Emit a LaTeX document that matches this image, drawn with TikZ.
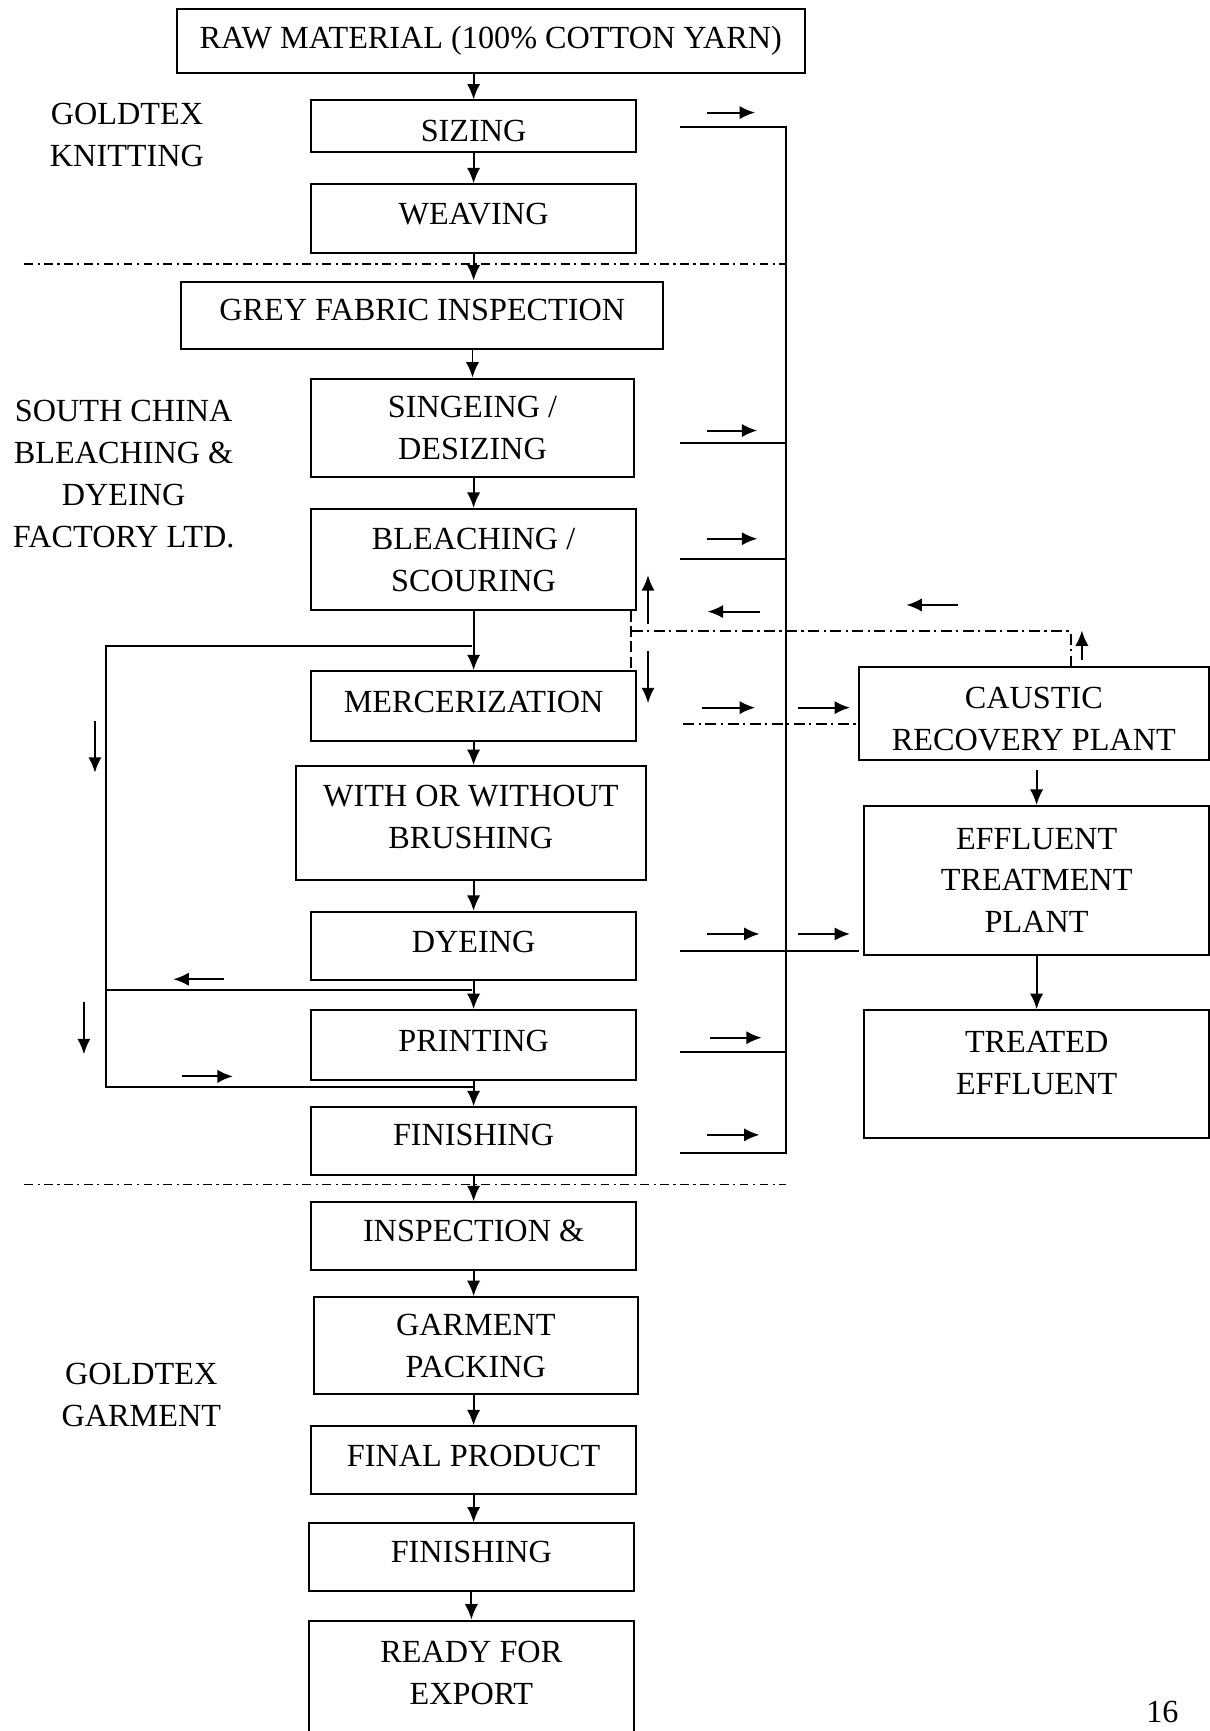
\documentclass[tikz,border=0pt]{standalone}
\usepackage{fontspec}
\setmainfont{Liberation Serif}
\usetikzlibrary{arrows.meta}
\newcommand\flowfont{\fontsize{14.6}{19}\selectfont}
\tikzset{
  procbox/.style={draw, line width=.9pt, align=center, inner sep=0pt, font=\flowfont},
  sidelabel/.style={align=center, inner sep=0pt, font=\flowfont},
  divline/.style={line width=.8pt, dash pattern=on 4pt off 2pt on 1pt off 2pt},
  dashdot/.style={line width=.9pt, dash pattern=on 5pt off 2pt on 1pt off 2pt},
  longdash/.style={line width=.9pt, dash pattern=on 5pt off 2pt},
}
\begin{document}
\begin{tikzpicture}[x=.5pt, y=-.5pt, >={Latex[length=7pt,width=6pt]}, line width=.9pt]
\useasboundingbox (0,0) rectangle (1096,1568);
% main process boxes
\node[procbox, minimum width=284.5pt, minimum height=29pt] (raw) at (444.5,37) {RAW MATERIAL (100\% COTTON YARN)};
\node[procbox, minimum width=147pt, minimum height=23.5pt, text height=13.5pt] (sizing) at (429,114.5) {SIZING};
\node[procbox, minimum width=147pt, minimum height=31pt, text depth=4pt] (weaving) at (429,198) {WEAVING};
\node[procbox, minimum width=218.5pt, minimum height=30.5pt, text depth=4.5pt] (grey) at (382.5,285.5) {GREY FABRIC INSPECTION};
\node[procbox, minimum width=146pt, minimum height=44.5pt] (singe) at (428,387.5) {SINGEING /\\DESIZING};
\node[procbox, minimum width=147pt, minimum height=46pt] (bleach) at (429,507) {BLEACHING /\\SCOURING};
\node[procbox, minimum width=147pt, minimum height=31.5pt, text depth=3.5pt] (merc) at (429,639.5) {MERCERIZATION};
\node[procbox, minimum width=158.5pt, minimum height=51.5pt, text depth=6pt] (brush) at (426.5,745.5) {WITH OR WITHOUT\\BRUSHING};
\node[procbox, minimum width=147pt, minimum height=31pt, text depth=4pt] (dyeing) at (429,857) {DYEING};
\node[procbox, minimum width=147pt, minimum height=31.5pt, text depth=3.5pt] (printing) at (429,946.5) {PRINTING};
\node[procbox, minimum width=147pt, minimum height=30.5pt, text depth=5.5pt] (finishing) at (429,1033.5) {FINISHING};
\node[procbox, minimum width=147pt, minimum height=30.5pt, text depth=4.5pt] (inspect) at (429,1119.5) {INSPECTION \&};
\node[procbox, minimum width=147pt, minimum height=44pt] (packing) at (431,1219) {GARMENT\\PACKING};
\node[procbox, minimum width=147pt, minimum height=30.5pt, text depth=3.5pt] (final) at (429,1322.5) {FINAL PRODUCT};
\node[procbox, minimum width=147pt, minimum height=30.5pt, text depth=4.5pt] (finish2) at (427,1410.5) {FINISHING};
\node[procbox, minimum width=147pt, minimum height=56pt, text depth=9pt] (ready) at (427,1524) {READY FOR\\EXPORT};
% treatment side
\node[procbox, minimum width=158.5pt, minimum height=42pt, text height=34pt] (caustic) at (936.5,646) {CAUSTIC\\RECOVERY PLANT};
\node[procbox, minimum width=156pt, minimum height=67.5pt] (etp) at (939,797.5) {EFFLUENT\\TREATMENT\\PLANT};
\node[procbox, minimum width=156pt, minimum height=58pt, text depth=10pt] (treated) at (939,973) {TREATED\\EFFLUENT};
% factory labels
\node[sidelabel] (knit) at (115,122) {GOLDTEX\\KNITTING};
\node[sidelabel] (scbd) at (112,429.5) {SOUTH CHINA\\BLEACHING \&\\DYEING\\FACTORY LTD.};
\node[sidelabel] (garm) at (128,1264) {GOLDTEX\\GARMENT};
\node[sidelabel] (page) at (1053,1551) {16};
% separators
\draw[divline] (22,239) -- (712,239);
\draw[divline] (22,1073) -- (712,1073);
% main flow
\draw[->] (sizing.north |- raw.south) -- (sizing.north);
\draw[->] (sizing.south) -- (weaving.north);
\draw[->] (weaving.south) -- (weaving.south |- grey.north);
\draw[->] (singe.north |- grey.south) -- (singe.north);
\draw[->] (bleach.north |- singe.south) -- (bleach.north);
\draw[->] (bleach.south) -- (merc.north);
\draw[->] (merc.south) -- (merc.south |- brush.north);
\draw[->] (dyeing.north |- brush.south) -- (dyeing.north);
\draw[->] (dyeing.south) -- (printing.north);
\draw[->] (printing.south) -- (finishing.north);
\draw[->] (finishing.south) -- (finishing.south |- inspect.north);
\draw[->] (inspect.south) -- (inspect.south |- packing.north);
\draw[->] (final.north |- packing.south) -- (final.north);
\draw[->] (final.south) -- (final.south |- finish2.north);
\draw[->] (finish2.south) -- (ready.north);
% by-pass on the left
\coordinate (lpA) at (428,585);
\coordinate (lpB) at (428,897);
\coordinate (lpC) at (430,985);
\draw (lpA) -- (96,585) -- (96,985) -- (lpC);
\draw (96,897) -- (lpB);
\draw[->] (86,653) -- (86,700);
\draw[->] (203,887) -- (157,887);
\draw[->] (76,908) -- (76,955);
\draw[->] (165,975) -- (211,975);
% waste water collector
\coordinate (busT) at (712,115);
\coordinate (busB) at (712,1044);
\draw (616,115) -- (busT) -- (busB) -- (616,1044);
\draw (616,401) -- (712,401);
\draw (616,506) -- (712,506);
\draw (616,953) -- (712,953);
\draw (616,861) -- (778,861);
\draw[dashdot] (619,656) -- (778,656);
\draw[->] (640,102) -- (684,102);
\draw[->] (640,390) -- (686,390);
\draw[->] (640,488) -- (686,488);
\draw[->] (636,641) -- (684,641);
\draw[->] (723,641) -- (770,641);
\draw[->] (640,846) -- (688,846);
\draw[->] (723,846) -- (770,846);
\draw[->] (643,940) -- (690,940);
\draw[->] (640,1028) -- (688,1028);
% caustic return
\draw[dashdot] (970,604) -- (970,572) -- (572,572);
\draw[longdash] (572,553) -- (572,608);
\draw[->] (980,598) -- (980,571);
\draw[->] (868,548) -- (821,548);
\draw[->] (688,554) -- (641,554);
\draw[->] (587,565) -- (587,521);
\draw[->] (587,590) -- (587,637);
% treatment
\draw[->, shorten <=4.5pt] (etp.north |- caustic.south) -- (etp.north);
\draw[->] (etp.south) -- (treated.north);
\end{tikzpicture}
\end{document}
